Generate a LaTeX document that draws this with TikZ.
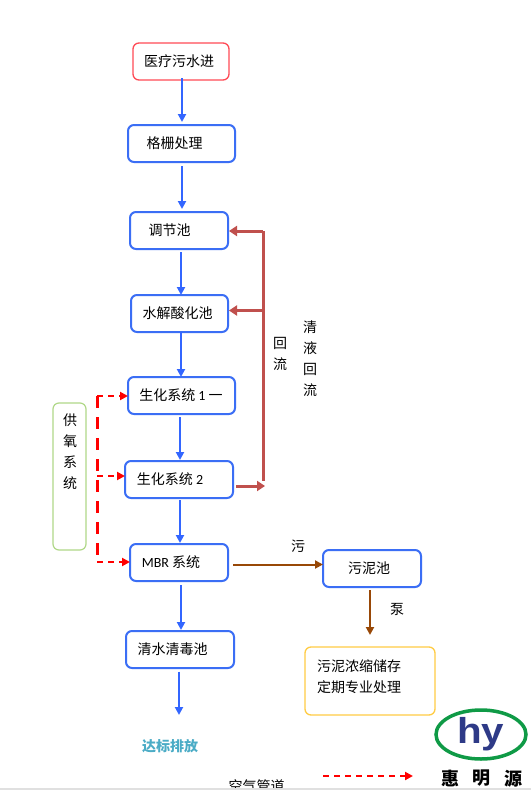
\documentclass[tikz,border=0pt]{standalone}
\usepackage{fontspec}
\setmainfont{Noto Sans CJK SC}
\newfontfamily\latfont{Carlito}
\newfontfamily\logofont{Liberation Sans}
\usetikzlibrary{arrows.meta,shapes.geometric}
\definecolor{flowblue}{HTML}{3366FF}
\definecolor{boxblue}{HTML}{3B6EF5}
\definecolor{retred}{HTML}{C0504D}
\definecolor{sludge}{HTML}{984807}
\definecolor{teal1}{HTML}{4BACC6}
\definecolor{logogreen}{HTML}{0F9A46}
\definecolor{logoblue}{HTML}{2E3A87}
\definecolor{goldline}{HTML}{FFCC44}
\definecolor{greenline}{HTML}{B0D888}
\definecolor{redline}{HTML}{FF4A55}
\newcommand{\sh}[3]{\makebox[0pt]{\hspace*{#1pt}\raisebox{#2pt}{#3}}}
\newcommand{\latn}[1]{{\latfont\fontsize{14}{16}\selectfont #1}}
\tikzset{
  base/.style={rounded corners=6pt,inner sep=0pt,outer sep=0pt,font=\fontsize{14}{16}\selectfont,anchor=center},
  bluebox/.style={base,draw=boxblue,line width=2pt,fill=white},
  redbox/.style={base,draw=redline,line width=1.3pt,fill=white},
  greenbox/.style={base,draw=greenline,line width=1.2pt},
  yellowbox/.style={base,draw=goldline,line width=1.3pt},
  lbl/.style={inner sep=0pt,outer sep=0pt,font=\fontsize{14}{21}\selectfont,align=center},
  flow/.style={draw=flowblue,line width=2pt,-{Triangle[length=8pt,width=8pt]}},
  ret/.style={draw=retred,line width=3pt},
  retar/.style={ret,-{Triangle[length=8pt,width=10pt]}},
  air/.style={draw=red,line width=2pt,dash pattern=on 6pt off 5pt,-{Triangle[length=8pt,width=8pt]}},
  airv/.style={draw=red,line width=3pt,dash pattern=on 11.5pt off 9.5pt},
  mud/.style={draw=sludge,line width=2pt,-{Triangle[length=8pt,width=8pt]}},
}
\begin{document}
\begin{tikzpicture}[x=1pt,y=-1pt]
\useasboundingbox (0,0) rectangle (531,790);
\fill[white] (0,0) rectangle (531,790);
% process boxes
\node[redbox,minimum width=96pt,minimum height=37pt] (b1) at (181,61.5) {\sh{-4}{0}{医疗污水进}};
\node[bluebox,minimum width=107pt,minimum height=37pt] (b2) at (181.5,143.5) {\sh{-14}{0}{格栅处理}};
\node[bluebox,minimum width=98pt,minimum height=37pt] (b3) at (179,230.5) {\sh{-19}{1}{调节池}};
\node[bluebox,minimum width=97pt,minimum height=37pt] (b4) at (179.5,313.5) {\sh{-4}{0}{水解酸化池}};
\node[bluebox,minimum width=107pt,minimum height=37pt] (b5) at (181.5,395.5) {\sh{-1}{1}{生化系统 \latn{1} 一}};
\node[bluebox,minimum width=108pt,minimum height=37pt] (b6) at (179,479.5) {\sh{-18}{1}{生化系统 \latn{2}}};
\node[bluebox,minimum width=98pt,minimum height=37pt] (b7) at (179,562.5) {\sh{-16}{0}{\latn{MBR} 系统}};
\node[bluebox,minimum width=108pt,minimum height=37pt] (b8) at (180,649.5) {\sh{-15}{0}{清水清毒池}};
\node[bluebox,minimum width=98pt,minimum height=37pt] (s1) at (372,568.5) {\sh{-6}{1}{污泥池}};
\node[yellowbox,minimum width=130pt,minimum height=68pt] (s2) at (370,681) {};
\node[lbl,align=left,anchor=north west] (s2t) at (317,659.5) {污泥浓缩储存\\定期专业处理};
\node[greenbox,minimum width=33pt,minimum height=147pt] (o2) at (69.5,476.5) {};
\node[lbl] (o2t) at (70,451.5) {供\\氧\\系\\统};
% main flow
\draw[flow,shorten <=-2pt,shorten >=3pt] ([xshift=1pt]b1.south) -- ([xshift=.5pt]b2.north);
\draw[flow,shorten <=4pt,shorten >=3pt] ([xshift=.5pt]b2.south) -- ([xshift=3pt]b3.north);
\draw[flow,shorten <=3pt,shorten >=0pt] ([xshift=2pt]b3.south) -- ([xshift=1.5pt]b4.north);
\draw[flow,shorten <=0pt,shorten >=0pt] ([xshift=1.5pt]b4.south) -- ([xshift=-.5pt]b5.north);
\draw[flow,shorten <=3pt,shorten >=1pt] ([xshift=-1.5pt]b5.south) -- ([xshift=1pt]b6.north);
\draw[flow,shorten <=2pt,shorten >=1pt] ([xshift=1pt]b6.south) -- ([xshift=1pt]b7.north);
\draw[flow,shorten <=4pt,shorten >=1pt] ([xshift=2pt]b7.south) -- ([xshift=1pt]b8.north);
\coordinate (out) at (179,715);
\draw[flow,shorten <=3.5pt] ([xshift=-1pt]b8.south) -- (out);
\node[lbl,text=teal1,font=\fontsize{14}{16}\selectfont\bfseries] (dis) at (170,746) {达标排放};
% return line
\coordinate (rtop) at (263,231);
\coordinate (rmid) at (263,310.5);
\coordinate (rbot) at (263,481);
\coordinate (rbar) at (265,486);
\draw[ret] (rtop) -- (rbot);
\draw[retar,shorten >=1pt] (rtop) -- (rtop-|b3.east);
\draw[retar,shorten >=1pt] (rmid) -- (rmid-|b4.east);
\draw[retar,shorten <=3pt] (rbar-|b6.east) -- (rbar);
\node[lbl] (r1) at (280,354) {回\\流};
\node[lbl] (r2) at (310,358.5) {清\\液\\回\\流};
% air lines
\coordinate (at) at (97,396);
\coordinate (am) at (97,476);
\coordinate (ab) at (97,562);
\draw[airv] (at) -- (ab);
\draw[air] (at) -- (b5.west|-at);
\draw[air] (am) -- (b6.west|-am);
\draw[air] (ab) -- (b7.west|-ab);
% sludge
\coordinate (mudy) at (300,564.5);
\draw[mud,shorten <=5pt] (mudy-|b7.east) -- (mudy-|s1.west);
\node[lbl] (w) at (298,546) {污};
\draw[mud,shorten <=3pt,shorten >=12pt] ([xshift=-2pt]s1.south) -- (s2.north);
\node[lbl] (p) at (397,609) {泵};
% legend
\begin{scope}
\clip (0,0) rectangle (531,788);
\node[lbl] (lt) at (256.5,786.5) {空气管道};
\end{scope}
\coordinate (l1) at (323,776);
\coordinate (l2) at (413,776);
\draw[air] (l1) -- (l2);
\draw[black!12,line width=1.5pt] (0,789) -- (531,789);
% logo
\node[draw=logogreen,line width=3.5pt,ellipse,minimum width=90pt,minimum height=49pt,inner sep=0pt,outer sep=0pt] (lg) at (481,734.5) {};
\node[inner sep=0pt,anchor=base west,text=logoblue,font=\logofont\fontsize{36}{36}\selectfont\bfseries,xscale=1.12] (hy) at (457,743) {hy};
\node[inner sep=0pt,font=\fontsize{18}{18}\selectfont\bfseries] (c1) at (450.5,778.5) {惠};
\node[inner sep=0pt,font=\fontsize{18}{18}\selectfont\bfseries] (c2) at (481.5,778.5) {明};
\node[inner sep=0pt,font=\fontsize{18}{18}\selectfont\bfseries] (c3) at (513,778.5) {源};
\end{tikzpicture}
\end{document}
